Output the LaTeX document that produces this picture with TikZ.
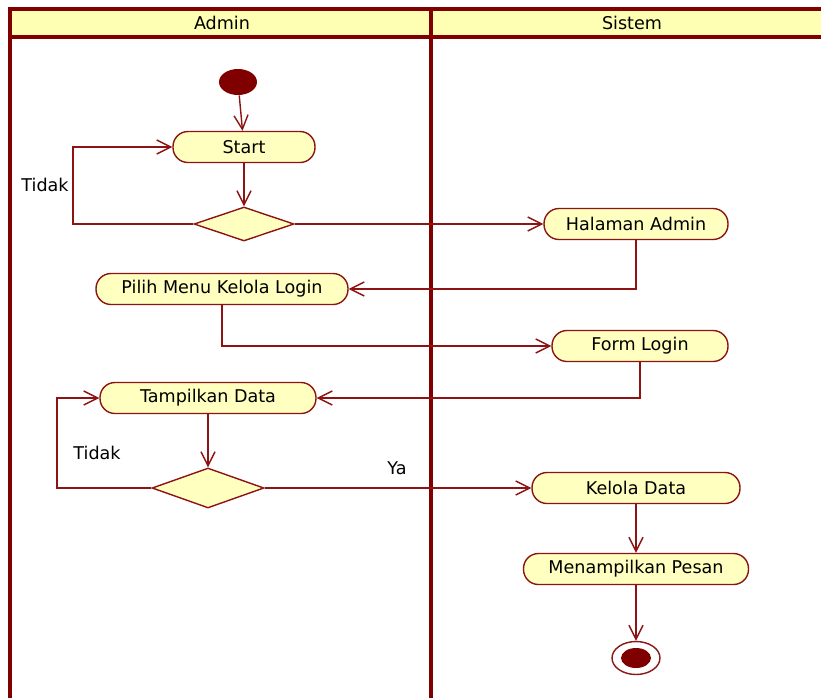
\documentclass[tikz,border=0pt]{standalone}
\usepackage{fontspec}
\setmainfont{DejaVu Sans}
\usepackage{tikz}
\usetikzlibrary{arrows.meta,shapes.geometric}
\definecolor{umlred}{RGB}{128,0,0}
\definecolor{umlline}{RGB}{140,20,20}
\definecolor{umlfill}{RGB}{255,255,192}
\definecolor{headfill}{RGB}{255,255,180}

\begin{document}
\begin{tikzpicture}[x=0.02cm,y=-0.02cm,
    every node/.style={font=\fontsize{10}{12}\selectfont},
    act/.style={draw=umlline,fill=umlfill,line width=0.8pt,rounded corners=8.5pt,minimum height=0.62cm,inner sep=0pt},
    choice/.style={draw=umlline,fill=umlfill,line width=0.8pt,diamond,inner sep=0pt},
    flow/.style={umlline,line width=0.8pt,-{Straight Barb[length=8pt,width=8pt]}},
    lane/.style={umlred,line width=1.8pt}]
        \clip (0,0) rectangle (821,697);
        % swimlanes
        \fill[headfill] (10,9) rectangle (830,37);
        \draw[lane] (10,700) -- (10,9) -- (830,9);
        \draw[lane] (10,37) -- (830,37);
        \draw[lane] (431,9) -- (431,700);
        \node (admin) at (222,23) {Admin};
        \node (sistem) at (632,23) {Sistem};

        % Admin lane
        \node[ellipse,fill=umlred,minimum width=0.76cm,minimum height=0.52cm,inner sep=0pt] (init) at (238,82) {};
        \node[act,minimum width=2.84cm] (start) at (244,147) {Start};
        \node[choice,minimum width=2cm,minimum height=0.68cm] (dec1) at (244,224) {};
        \node[act,minimum width=5.04cm] (pilih) at (222,289) {Pilih Menu Kelola Login};
        \node[act,minimum width=4.32cm] (tampil) at (208,398) {Tampilkan Data};
        \node[choice,minimum width=2.24cm,minimum height=0.8cm] (dec2) at (208,488) {};
        \node (tidak1) at (45,185) {Tidak};
        \node (tidak2) at (97,453) {Tidak};
        \node (ya) at (397,468) {Ya};
        \coordinate (loop1) at (73,185);
        \coordinate (loop2) at (57,445);

        % Sistem lane
        \node[act,minimum width=3.68cm] (halaman) at (636,224) {Halaman Admin};
        \node[act,minimum width=3.52cm] (form) at (640,346) {Form Login};
        \node[act,minimum width=4.16cm] (kelola) at (636,488) {Kelola Data};
        \node[act,minimum width=4.5cm] (pesan) at (636,569) {Menampilkan Pesan};
        \node[ellipse,draw=umlline,fill=white,line width=0.8pt,minimum width=0.96cm,minimum height=0.66cm,inner sep=0pt] (final) at (636,658) {};
        \node[ellipse,fill=umlred,minimum width=0.6cm,minimum height=0.4cm,inner sep=0pt] (finalin) at (final) {};

        % flows
        \draw[flow] (init) -- (start);
        \draw[flow] (start) -- (dec1);
        \draw[flow] (dec1.west) -| (loop1) |- (start.west);
        \draw[flow] (dec1.east) -- (halaman.west);
        \draw[flow] (halaman.south) |- (pilih.east);
        \draw[flow] (pilih.south) |- (form.west);
        \draw[flow] (form.south) |- (tampil.east);
        \draw[flow] (tampil) -- (dec2);
        \draw[flow] (dec2.west) -| (loop2) |- (tampil.west);
        \draw[flow] (dec2.east) -- (kelola.west);
        \draw[flow] (kelola) -- (pesan);
        \draw[flow] (pesan) -- (final);
    \end{tikzpicture}
\end{document}
